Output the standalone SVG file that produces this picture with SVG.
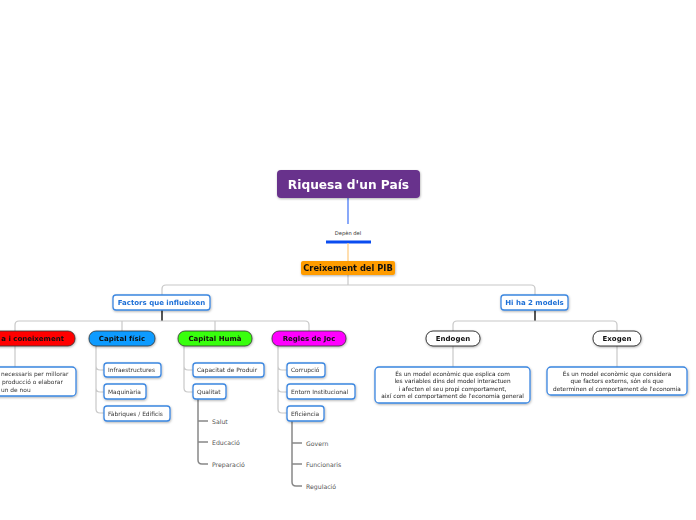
<svg xmlns="http://www.w3.org/2000/svg" width="696" height="520" viewBox="0 0 696 520">
<defs>
<filter id="sh" x="-10%" y="-20%" width="120%" height="150%">
<feDropShadow dx="0.5" dy="1" stdDeviation="0.8" flood-color="#000" flood-opacity="0.3"/>
</filter>
</defs>
<style>
text{font-family:"DejaVu Sans","Liberation Sans",sans-serif;}
.b{font-weight:bold;}
.l1{fill:none;stroke:#c8c8c8;stroke-width:1.2;}
.l2{fill:none;stroke:#555;stroke-width:2;}
.l3{fill:none;stroke:#888;stroke-width:1.5;}
.mn{filter:url(#sh);}
.wb{fill:#fff;stroke:#3b86e0;stroke-width:1.3;}
.t7{font-size:7px;text-anchor:middle;fill:#111;}
.tb{font-size:7px;text-anchor:middle;fill:#1d6fd6;font-weight:bold;}
.ts{font-size:5.9px;fill:#333;}
.tg{font-size:6.2px;fill:#555;}
.td{font-size:5.8px;text-anchor:middle;fill:#222;}
</style>
<rect width="696" height="520" fill="#fff"/>
<g id="connectors">
<line x1="348" y1="198" x2="348" y2="224" stroke="#3b6ff5" stroke-width="1.2"/>
<line x1="326" y1="242" x2="371" y2="242" stroke="#0a4cf0" stroke-width="3"/>
<line x1="348" y1="243" x2="348" y2="261" stroke="#ffc97a" stroke-width="1.2"/>
<path class="l1" d="M348 275 V285 M162 295 V289 Q162 285 166 285 H531 Q535 285 535 289 V295"/>
<path class="l2" d="M162 310 V321"/>
<path class="l1" d="M15 331 V325 Q15 321 19 321 H305 Q309 321 309 325 V331 M122 321 V331 M215 321 V331"/>
<path class="l2" d="M535 310 V321"/>
<path class="l1" d="M453 331 V325 Q453 321 457 321 H613 Q617 321 617 325 V331"/>
<path class="l1" d="M15 346 V367 M453 346 V367 M617 346 V367"/>
<path class="l1" d="M96 346 V409 Q96 413 100 413 H104 M96 366 Q96 370 100 370 H104 M96 388 Q96 392 100 392 H104"/>
<path class="l1" d="M184 346 V388 Q184 392 188 392 H193 M184 366 Q184 370 188 370 H193"/>
<path class="l1" d="M278 346 V409 Q278 413 282 413 H287 M278 366 Q278 370 282 370 H287 M278 388 Q278 392 282 392 H287"/>
<path class="l3" d="M198 399 V460 Q198 464 202 464 H208 M198 421 H208 M198 442 H208"/>
<path class="l3" d="M292 421 V482 Q292 486 296 486 H302 M292 443 H302 M292 464 H302"/>
</g>
<g id="root" class="mn"><rect x="277" y="170" width="143" height="28" rx="4" fill="#68308c"/>
<text x="348.5" y="188.8" font-size="12.2" class="b" text-anchor="middle" fill="#fff">Riquesa d'un País</text></g>
<g id="depen"><text x="348" y="235" font-size="5.2" text-anchor="middle" fill="#333">Depèn del</text></g>
<g id="creixement" class="mn"><rect x="301" y="261" width="94" height="14" rx="2" fill="#ff9c00"/>
<text x="348" y="271" class="t7 b" font-size="8.3" style="font-size:8.3px">Creixement del PIB</text></g>
<g id="factors" class="mn"><rect x="113" y="295" width="97" height="15" rx="3" class="wb"/>
<text x="161.5" y="305" class="tb">Factors que influeixen</text></g>
<g id="models" class="mn"><rect x="501" y="295" width="67" height="15" rx="3" class="wb"/>
<text x="534.5" y="305" class="tb">Hi ha 2 models</text></g>
<g id="cultura" class="mn"><rect x="-45" y="331" width="120" height="15" rx="7" fill="#ff0000" stroke="#333" stroke-width="0.8"/>
<text x="64" y="341" class="t7 b" style="text-anchor:end">a i coneixement</text></g>
<g id="fisic" class="mn"><rect x="89" y="331" width="66" height="15" rx="7" fill="#0a9bff" stroke="#333" stroke-width="0.8"/>
<text x="122" y="341" class="t7 b">Capital físic</text></g>
<g id="huma" class="mn"><rect x="178" y="331" width="74" height="15" rx="7" fill="#38ff0a" stroke="#333" stroke-width="0.8"/>
<text x="215" y="341" class="t7 b">Capital Humà</text></g>
<g id="regles" class="mn"><rect x="272" y="331" width="74" height="15" rx="7" fill="#ff00ff" stroke="#333" stroke-width="0.8"/>
<text x="309" y="341" class="t7 b">Regles de Joc</text></g>
<g id="endogen" class="mn"><rect x="426" y="331" width="54" height="15" rx="7" fill="#fff" stroke="#222" stroke-width="0.9"/>
<text x="453" y="341" class="t7 b">Endogen</text></g>
<g id="exogen" class="mn"><rect x="593" y="331" width="48" height="15" rx="7" fill="#fff" stroke="#222" stroke-width="0.9"/>
<text x="617" y="341" class="t7 b">Exogen</text></g>
<g id="cultura-desc" class="mn"><rect x="-45" y="367" width="121" height="29" rx="4" class="wb"/>
<text class="ts"><tspan x="1" y="376">necessaris per millorar</tspan><tspan x="2" y="384">producció o elaborar</tspan><tspan x="1" y="392">un de nou</tspan></text></g>
<g id="endogen-desc" class="mn"><rect x="375" y="367" width="155" height="36" rx="4" class="wb"/>
<text class="td"><tspan x="452.5" y="375.5">És un model econòmic que esplica com</tspan><tspan x="452.5" y="383">les variables dins del model interactuen</tspan><tspan x="452.5" y="390.5">i afecten el seu propi comportament,</tspan><tspan x="452.5" y="398">així com el comportament de l'economia general</tspan></text></g>
<g id="exogen-desc" class="mn"><rect x="547" y="367" width="140" height="28" rx="4" class="wb"/>
<text class="td"><tspan x="617" y="375.5">És un model econòmic que considera</tspan><tspan x="617" y="383">que factors externs, són els que</tspan><tspan x="617" y="390.5">determinen el comportament de l'economia</tspan></text></g>
<g id="infra" class="mn"><rect x="104" y="363" width="57" height="14" rx="3" class="wb"/><text x="108" y="372" class="ts">Infraestructures</text></g>
<g id="maquinaria" class="mn"><rect x="104" y="384" width="42" height="15" rx="3" class="wb"/><text x="108" y="393.5" class="ts">Maquinària</text></g>
<g id="fabriques" class="mn"><rect x="104" y="406" width="66" height="15" rx="3" class="wb"/><text x="108" y="415.5" class="ts">Fàbriques / Edificis</text></g>
<g id="capacitat" class="mn"><rect x="193" y="363" width="71" height="14" rx="3" class="wb"/><text x="197" y="372" class="ts">Capacitat de Produir</text></g>
<g id="qualitat" class="mn"><rect x="193" y="384" width="33" height="15" rx="3" class="wb"/><text x="197" y="393.5" class="ts">Qualitat</text></g>
<g id="corrupcio" class="mn"><rect x="287" y="363" width="38" height="14" rx="3" class="wb"/><text x="291" y="372" class="ts">Corrupció</text></g>
<g id="entorn" class="mn"><rect x="287" y="384" width="68" height="15" rx="3" class="wb"/><text x="291" y="393.5" class="ts">Entorn Institucional</text></g>
<g id="eficiencia" class="mn"><rect x="287" y="406" width="37" height="15" rx="3" class="wb"/><text x="291" y="415.5" class="ts">Eficiència</text></g>
<g id="salut"><text x="212" y="423.5" class="tg">Salut</text></g>
<g id="educacio"><text x="212" y="444.5" class="tg">Educació</text></g>
<g id="preparacio"><text x="212" y="466.5" class="tg">Preparació</text></g>
<g id="govern"><text x="306" y="445.5" class="tg">Govern</text></g>
<g id="funcionaris"><text x="306" y="466.5" class="tg">Funcionaris</text></g>
<g id="regulacio"><text x="306" y="488.5" class="tg">Regulació</text></g>
</svg>
